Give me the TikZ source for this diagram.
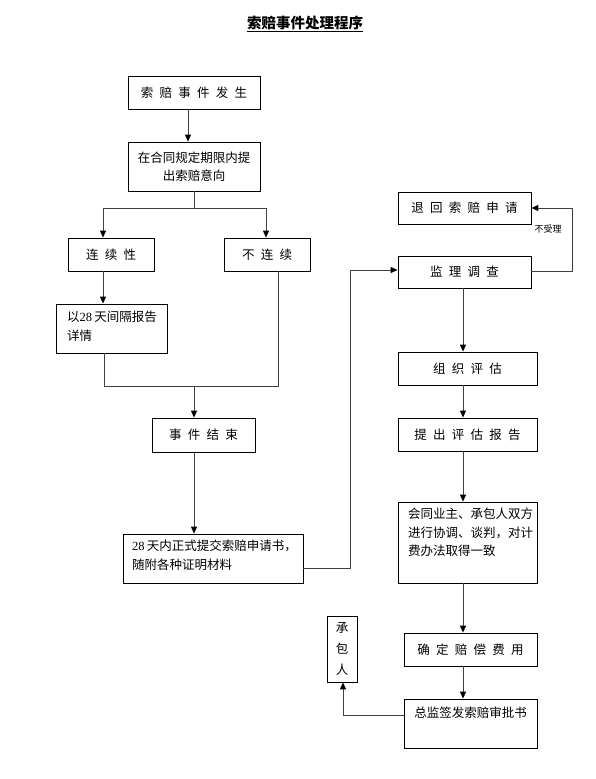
\documentclass[tikz,border=0pt]{standalone}
\usepackage{fontspec}
\setmainfont{Noto Sans CJK SC}
\newfontfamily\latinf{Liberation Serif}
\usetikzlibrary{arrows.meta}
\newcommand\chgap{\hspace{0.5em}}
\begin{document}
\begin{tikzpicture}[x=1pt,y=-1pt,
  box/.style={draw=black,line width=0.8pt,rectangle,inner sep=0pt,font=\fontsize{12.5}{18.5}\selectfont},
  txt/.style={inner sep=0pt,align=left,font=\fontsize{12.5}{18.5}\selectfont},
  conn/.style={draw=black!75,line width=1pt},
  arr/.style={conn,-{Triangle[length=7pt,width=6pt,color=black]}}]
\useasboundingbox (0,0) rectangle (596,779);
% title
\node[inner sep=0pt,font=\fontsize{14.5}{16}\selectfont\bfseries] (title) at (305,24) {\underline{索赔事件处理程序}};
% left column
\node[box,minimum width=132pt,minimum height=33pt] (b1) at (194,92.5) {索\chgap 赔\chgap 事\chgap 件\chgap 发\chgap 生};
\node[box,minimum width=132pt,minimum height=49pt,align=center] (b2) at (194,166.5) {在合同规定期限内提\\出索赔意向};
\node[box,minimum width=86pt,minimum height=33pt] (lx) at (111,254.5) {连\chgap 续\chgap 性};
\node[box,minimum width=86pt,minimum height=33pt] (blx) at (267,254.5) {不\chgap 连\chgap 续};
\node[box,minimum width=111pt,minimum height=49pt] (b28) at (111.5,328.5) {};
\node[txt,anchor=north west] (b28t) at (67,311) {以{\latinf 28}\,天间隔报告\\详情};
\node[box,minimum width=103pt,minimum height=34pt] (end) at (203.5,435) {事\chgap 件\chgap 结\chgap 束};
\node[box,minimum width=180pt,minimum height=49pt] (sub) at (213,558.5) {};
\node[txt,anchor=north west] (subt) at (132,540) {{\latinf 28}\,天内正式提交索赔申请书，\\随附各种证明材料};
% right column
\node[box,minimum width=133pt,minimum height=32pt] (ret) at (464.5,208) {退\chgap 回\chgap 索\chgap 赔\chgap 申\chgap 请};
\node[box,minimum width=133pt,minimum height=32pt] (inv) at (464.5,272) {监\chgap 理\chgap 调\chgap 查};
\node[box,minimum width=139pt,minimum height=33pt] (org) at (467.5,368.5) {组\chgap 织\chgap 评\chgap 估};
\node[box,minimum width=139pt,minimum height=33pt] (rep) at (467.5,434.5) {提\chgap 出\chgap 评\chgap 估\chgap 报\chgap 告};
\node[box,minimum width=139pt,minimum height=81pt] (neg) at (467.5,542.5) {};
\node[txt,anchor=north west] (negt) at (408,508) {会同业主、承包人双方\\进行协调、谈判，对计\\费办法取得一致};
\node[box,minimum width=133pt,minimum height=33pt] (fee) at (470.5,649.5) {确\chgap 定\chgap 赔\chgap 偿\chgap 费\chgap 用};
\node[box,minimum width=133pt,minimum height=49pt] (sign) at (470.5,723.5) {};
\node[txt,anchor=center] (signt) at (470.5,713) {总监签发索赔审批书};
\node[box,minimum width=30pt,minimum height=66pt,align=center,font=\fontsize{12.5}{21}\selectfont] (cbr) at (342,649) {承\\包\\人};
\node[inner sep=0pt,font=\fontsize{9}{10}\selectfont] (nsl) at (548,229) {不受理};
% coordinates
\coordinate (s1) at (194,208);
\coordinate (xl) at (103,208);
\coordinate (xr) at (266,208);
\coordinate (m1) at (104,386);
\coordinate (m2) at (278,386);
\coordinate (m3) at (194,386);
\coordinate (r1) at (350,568);
\coordinate (r2) at (350,270);
\coordinate (q1) at (572,271);
\coordinate (q2) at (572,208);
\coordinate (c1) at (343,715);
\coordinate (v1) at (188,0);
\coordinate (v2) at (463,0);
% connectors
\draw[arr] (v1 |- b1.south) -- (v1 |- b2.north);
\draw[conn] (b2.south) -- (s1) -- (xl) (s1) -- (xr);
\draw[arr] (xl) -- (xl |- lx.north);
\draw[arr] (xr) -- (xr |- blx.north);
\draw[arr] (xl |- lx.south) -- (xl |- b28.north);
\draw[conn] (m1 |- b28.south) -- (m1) -- (m2) -- (m2 |- blx.south);
\draw[arr] (m3) -- (m3 |- end.north);
\draw[arr] (m3 |- end.south) -- (m3 |- sub.north);
\draw[conn] (r1 -| sub.east) -- (r1) -- (r2);
\draw[arr] (r2) -- (r2 -| inv.west);
\draw[conn] (q1 -| inv.east) -- (q1) -- (q2);
\draw[arr] (q2) -- (q2 -| ret.east);
\draw[arr] (v2 |- inv.south) -- (v2 |- org.north);
\draw[arr] (v2 |- org.south) -- (v2 |- rep.north);
\draw[arr] (v2 |- rep.south) -- (v2 |- neg.north);
\draw[arr] (v2 |- neg.south) -- (v2 |- fee.north);
\draw[arr] (v2 |- fee.south) -- (v2 |- sign.north);
\draw[conn] (c1 -| sign.west) -- (c1);
\draw[arr] (c1) -- (c1 |- cbr.south);
\end{tikzpicture}
\end{document}
